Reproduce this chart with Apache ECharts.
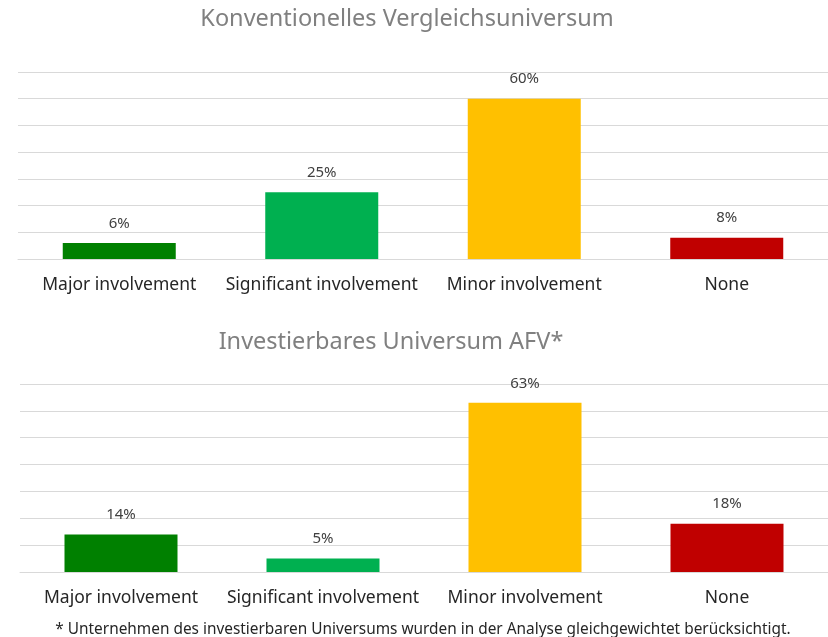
<!DOCTYPE html>
<html>
<head>
<meta charset="utf-8">
<script src="https://cdn.jsdelivr.net/npm/echarts@6/dist/echarts.min.js"></script>
<style>
  html, body { margin: 0; padding: 0; background: #fff; }
  #chart { width: 828px; height: 637px; }
</style>
</head>
<body>
<div id="chart"></div>
<script>
  // Daten
  var categories = ['Major involvement', 'Significant involvement', 'Minor involvement', 'None'];
  var konventionell = [6, 25, 60, 8];
  var investierbar = [14, 5, 63, 18];
  var barColors = ['#008000', '#00B050', '#FFC000', '#C00000'];

  var font = 'Noto Sans';

  function withColors(values) {
    return values.map(function (v, i) {
      return { value: v, itemStyle: { color: barColors[i] } };
    });
  }

  function xAxisFor(gridIndex) {
    return {
      type: 'category',
      gridIndex: gridIndex,
      data: categories,
      axisTick: { show: false },
      axisLine: { lineStyle: { color: '#D9D9D9', width: 1 } },
      axisLabel: { color: '#262626', fontSize: 17.5, fontFamily: font, margin: 17, interval: 0 }
    };
  }

  function yAxisFor(gridIndex) {
    return {
      type: 'value',
      gridIndex: gridIndex,
      min: 0,
      max: 70,
      interval: 10,
      axisLabel: { show: false },
      axisLine: { show: false },
      axisTick: { show: false },
      splitLine: { lineStyle: { color: '#D9D9D9', width: 1 } }
    };
  }

  function barSeries(idx, values) {
    return {
      type: 'bar',
      xAxisIndex: idx,
      yAxisIndex: idx,
      data: withColors(values),
      barWidth: 113,
      label: {
        show: true,
        position: 'top',
        distance: 12,
        formatter: '{c}%',
        color: '#404040',
        fontSize: 15,
        fontFamily: font
      }
    };
  }

  var myChart = echarts.init(document.getElementById('chart'));

  var option = {
    animation: false,
    title: [
      {
        text: 'Konventionelles Vergleichsuniversum',
        left: 402, top: 2, textAlign: 'center',
        textStyle: { color: '#808080', fontSize: 23.5, fontWeight: 'normal', fontFamily: font }
      },
      {
        text: 'Investierbares Universum AFV*',
        left: 386, top: 325, textAlign: 'center',
        textStyle: { color: '#808080', fontSize: 23.5, fontWeight: 'normal', fontFamily: font }
      },
      {
        text: '* Unternehmen des investierbaren Universums wurden in der Analyse gleichgewichtet berücksichtigt.',
        left: 418, top: 617, textAlign: 'center',
        textStyle: { color: '#262626', fontSize: 15.4, fontWeight: 'normal', fontFamily: font }
      }
    ],
    grid: [
      { left: 18, width: 812, top: 72, height: 187 },
      { left: 20, width: 812, top: 384, height: 188 }
    ],
    xAxis: [xAxisFor(0), xAxisFor(1)],
    yAxis: [yAxisFor(0), yAxisFor(1)],
    series: [barSeries(0, konventionell), barSeries(1, investierbar)]
  };

  myChart.setOption(option);
</script>
</body>
</html>
